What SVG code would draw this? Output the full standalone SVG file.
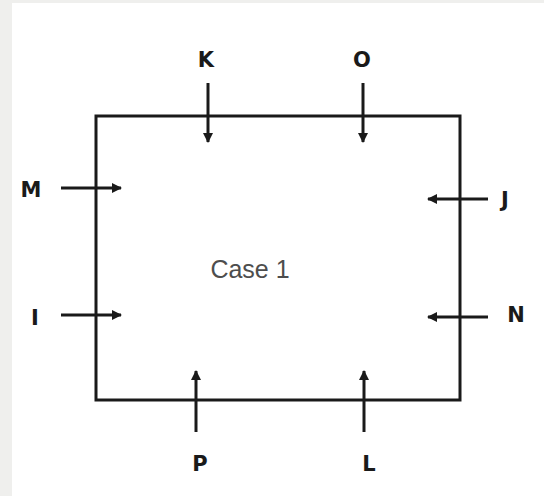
<svg xmlns="http://www.w3.org/2000/svg" width="544" height="496" viewBox="0 0 544 496">
  <defs>
    <marker id="ah" viewBox="0 0 10 10" refX="9" refY="5" markerWidth="11" markerHeight="10" markerUnits="userSpaceOnUse" orient="auto">
      <path d="M0,0 L10,5 L0,10 Z" fill="#1a1a1a"/>
    </marker>
    <style>
      .box { fill: none; stroke: #1a1a1a; stroke-width: 3; }
      .arr { stroke: #1a1a1a; stroke-width: 3; fill: none; marker-end: url(#ah); }
      .lbl { font-family: "DejaVu Sans", "Liberation Sans", sans-serif; font-weight: bold; font-size: 21px; fill: #1a1a1a; text-anchor: middle; }
      .case { font-family: "Liberation Sans", "Open Sans", sans-serif; font-size: 25px; fill: #4d4d4d; text-anchor: middle; }
    </style>
  </defs>
  <rect x="0" y="0" width="544" height="496" fill="#efefed"/>
  <rect x="12" y="3" width="532" height="493" fill="#ffffff"/>

  <g id="case1">
    <rect class="box" x="96" y="116" width="364" height="284"/>
    <text class="case" x="250" y="278">Case 1</text>
  </g>

  <g id="connectors">
    <line class="arr" x1="208" y1="83" x2="208" y2="142"/>
    <line class="arr" x1="363" y1="83" x2="363" y2="142"/>
    <line class="arr" x1="61" y1="188" x2="121" y2="188"/>
    <line class="arr" x1="61" y1="315" x2="121" y2="315"/>
    <line class="arr" x1="488" y1="199" x2="428" y2="199"/>
    <line class="arr" x1="488" y1="317" x2="428" y2="317"/>
    <line class="arr" x1="196" y1="432" x2="196" y2="371"/>
    <line class="arr" x1="364" y1="432" x2="364" y2="371"/>
  </g>

  <g id="K"><text class="lbl" x="206" y="67">K</text></g>
  <g id="O"><text class="lbl" x="362" y="67">O</text></g>
  <g id="M"><text class="lbl" x="31" y="197">M</text></g>
  <g id="I"><text class="lbl" x="35" y="325">I</text></g>
  <g id="J"><text class="lbl" x="505" y="207">J</text></g>
  <g id="N"><text class="lbl" x="516" y="322">N</text></g>
  <g id="P"><text class="lbl" x="200" y="471">P</text></g>
  <g id="L"><text class="lbl" x="369" y="471">L</text></g>
</svg>
